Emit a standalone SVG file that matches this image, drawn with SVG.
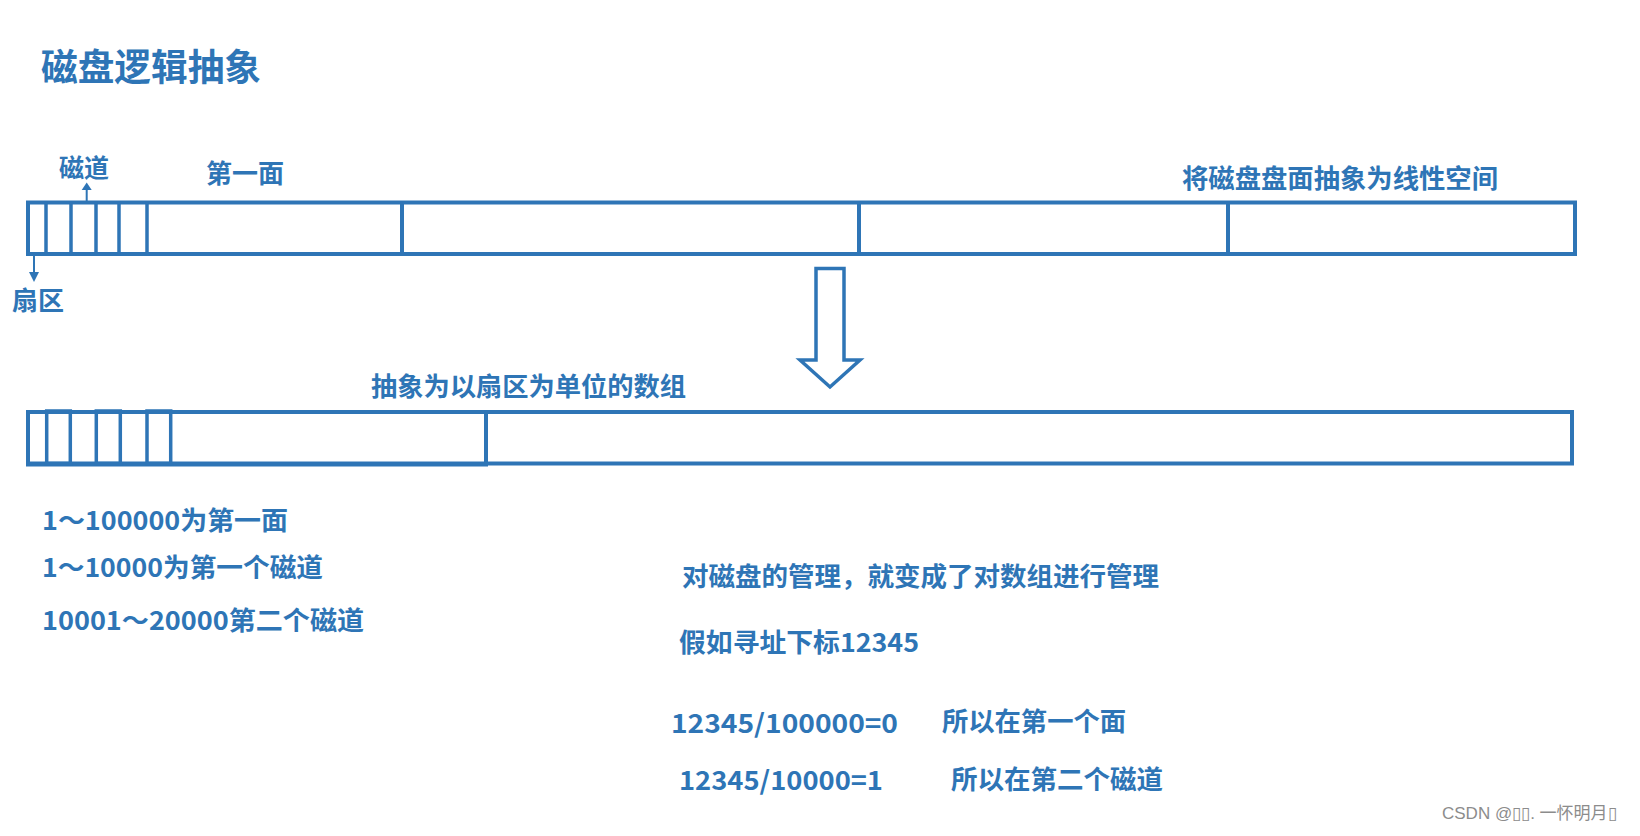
<svg xmlns="http://www.w3.org/2000/svg" width="1640" height="836" viewBox="0 0 1640 836">
<defs>
<style>
.t{font-family:"Noto Sans CJK SC","Noto Sans",sans-serif;font-weight:700;fill:#2e75b6;font-size:26px}
.ln{fill:none;stroke:#2e75b6;stroke-width:4}
.thin{fill:none;stroke:#2e75b6;stroke-width:3.5}
.cn{stroke:#2e75b6;stroke-width:2;fill:none}
.hd{fill:#2e75b6}
.wm{font-family:"Liberation Sans","Noto Sans CJK SC",sans-serif;font-size:17px;fill:#8c8c8c}
</style>
</defs>
<rect width="1640" height="836" fill="#ffffff"/>

<g id="title"><text class="t" x="41" y="81" style="font-size:37px" textLength="220" lengthAdjust="spacingAndGlyphs">磁盘逻辑抽象</text></g>

<g id="disk-surface">
<rect class="ln" x="28" y="202.5" width="1547" height="51.5"/>
<line class="thin" x1="46" y1="202.5" x2="46" y2="254"/>
<line class="thin" x1="71" y1="202.5" x2="71" y2="254"/>
<line class="thin" x1="96" y1="202.5" x2="96" y2="254"/>
<line class="thin" x1="119" y1="202.5" x2="119" y2="254"/>
<line class="thin" x1="147" y1="202.5" x2="147" y2="254"/>
<line class="ln" x1="402" y1="202.5" x2="402" y2="254"/>
<line class="ln" x1="859" y1="202.5" x2="859" y2="254"/>
<line class="ln" x1="1228" y1="202.5" x2="1228" y2="254"/>
</g>

<g id="label-track"><text class="t" x="59" y="177" style="font-size:25px">磁道</text></g>
<g id="label-face1"><text class="t" x="206" y="183">第一面</text></g>
<g id="label-sector"><text class="t" x="12" y="310">扇区</text></g>
<g id="label-linear"><text class="t" x="1182" y="188" textLength="316" lengthAdjust="spacingAndGlyphs">将磁盘盘面抽象为线性空间</text></g>

<g id="down-arrow">
<polygon class="thin" points="816,268.5 844,268.5 844,360 860,360 830,387 800,360 816,360"/>
</g>

<g id="label-array"><text class="t" x="371" y="396" textLength="315" lengthAdjust="spacingAndGlyphs">抽象为以扇区为单位的数组</text></g>

<g id="sector-array">
<rect class="ln" x="28" y="412" width="1544" height="51.5"/>
<rect class="ln" x="28" y="412" width="458" height="52.5"/>
<rect class="thin" x="46.7" y="411" width="23.6" height="52.5"/>
<rect class="thin" x="96.3" y="411" width="24" height="52.5"/>
<rect class="thin" x="147" y="411" width="23.7" height="52.5"/>
</g>

<g id="connectors">
<line class="cn" x1="86.7" y1="201" x2="86.7" y2="189"/>
<polygon class="hd" points="81.7,190 91.7,190 86.7,182.5"/>
<line class="cn" x1="34" y1="255" x2="34" y2="273"/>
<polygon class="hd" points="29,272 39,272 34,282"/>
</g>

<g id="notes-left">
<text class="t" x="42" y="530" textLength="246" lengthAdjust="spacingAndGlyphs">1～100000为第一面</text>
<text class="t" x="42" y="577" textLength="281" lengthAdjust="spacingAndGlyphs">1～10000为第一个磁道</text>
<text class="t" x="42" y="630" textLength="322" lengthAdjust="spacingAndGlyphs">10001～20000第二个磁道</text>
</g>

<g id="notes-right">
<text class="t" x="682" y="586" textLength="477" lengthAdjust="spacingAndGlyphs">对磁盘的管理，就变成了对数组进行管理</text>
<text class="t" x="679" y="652" textLength="240" lengthAdjust="spacingAndGlyphs">假如寻址下标12345</text>
<text class="t" x="671" y="733" textLength="227" lengthAdjust="spacingAndGlyphs">12345/100000=0</text>
<text class="t" x="942" y="731" textLength="184" lengthAdjust="spacingAndGlyphs">所以在第一个面</text>
<text class="t" x="679" y="790" textLength="204" lengthAdjust="spacingAndGlyphs">12345/10000=1</text>
<text class="t" x="951" y="789" textLength="212" lengthAdjust="spacingAndGlyphs">所以在第二个磁道</text>
</g>

<g id="watermark"><text class="wm" x="1442" y="819">CSDN @▯▯. 一怀明月▯</text></g>
</svg>
